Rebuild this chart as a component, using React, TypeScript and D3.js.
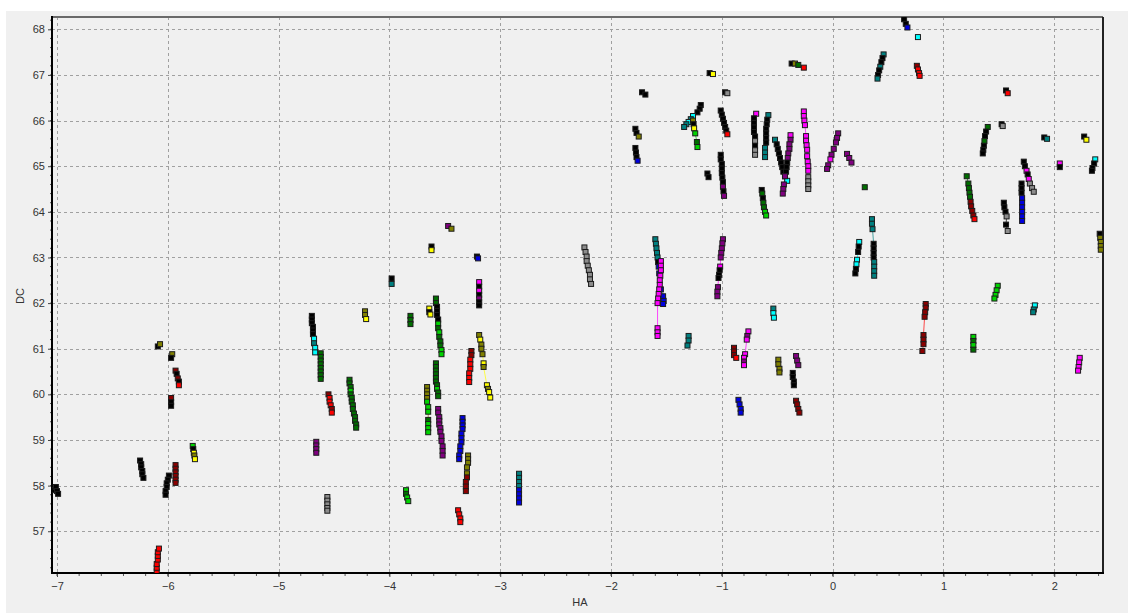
import React, { useEffect, useRef } from 'react';
import * as d3 from 'd3';

// HA / DC track plot: every track is a short run of square markers joined by a thin line

const W = 1128;
const H = 613;

// colour codes used by the point lists
const COLORS: Record<string, string> = {
  k: '#000000', r: '#ff0000', R: '#8b0000', g: '#00d400', G: '#006e00',
  y: '#ffff00', o: '#808000', c: '#00ffff', t: '#008080', b: '#0000e0',
  m: '#ff00ff', P: '#800080', a: '#8c8c8c',
};

const X_TICKS = [-7, -6, -5, -4, -3, -2, -1, 0, 1, 2];
const Y_TICKS = [57, 58, 59, 60, 61, 62, 63, 64, 65, 66, 67, 68];

type Pt = [number, number, string];
type Track = { c: string; p: Pt[] };

// HA < -3.7
const westTracks: Track[] = [
  { c: 'k', p: [[-7.03, 57.9, 'k'], [-7.01, 57.97, 'k'], [-7.0, 57.88, 'k'], [-6.99, 57.82, 'k']] },
  { c: 'k', p: [[-6.25, 58.55, 'k'], [-6.24, 58.47, 'k'], [-6.24, 58.4, 'k'], [-6.23, 58.32, 'k'], [-6.23, 58.25, 'k'], [-6.22, 58.17, 'k']] },
  { c: 'k', p: [[-5.99, 58.22, 'k'], [-6.0, 58.13, 'k'], [-6.01, 58.05, 'k'], [-6.01, 57.97, 'k'], [-6.02, 57.88, 'k'], [-6.02, 57.8, 'k']] },
  { c: 'R', p: [[-5.93, 58.45, 'R'], [-5.93, 58.37, 'R'], [-5.93, 58.29, 'R'], [-5.93, 58.21, 'R'], [-5.93, 58.13, 'R'], [-5.93, 58.06, 'R']] },
  { c: 'g', p: [[-5.775, 58.87, 'g'], [-5.77, 58.8, 'k'], [-5.765, 58.72, 'y'], [-5.76, 58.66, 'o'], [-5.755, 58.58, 'y']] },
  { c: 'r', p: [[-6.1, 56.12, 'r'], [-6.1, 56.2, 'r'], [-6.1, 56.28, 'r'], [-6.09, 56.38, 'r'], [-6.09, 56.46, 'r'], [-6.09, 56.54, 'r'], [-6.08, 56.62, 'r']] },
  { c: 'k', p: [[-6.09, 61.05, 'k'], [-6.07, 61.1, 'o']] },
  { c: 'k', p: [[-5.96, 60.88, 'o'], [-5.97, 60.8, 'k']] },
  { c: 'R', p: [[-5.93, 60.52, 'R'], [-5.92, 60.45, 'k'], [-5.91, 60.35, 'R'], [-5.9, 60.28, 'k'], [-5.9, 60.2, 'r']] },
  { c: 'R', p: [[-5.97, 59.92, 'R'], [-5.97, 59.83, 'k'], [-5.97, 59.75, 'k']] },
  { c: 'k', p: [[-4.7, 61.72, 'k'], [-4.7, 61.64, 'k'], [-4.7, 61.56, 'k'], [-4.69, 61.48, 'k'], [-4.69, 61.4, 'k'], [-4.69, 61.32, 'k'], [-4.68, 61.22, 'c'], [-4.68, 61.12, 't'], [-4.67, 61.02, 'c'], [-4.67, 60.92, 'c']] },
  { c: 'G', p: [[-4.62, 60.9, 'G'], [-4.62, 60.82, 'G'], [-4.62, 60.74, 'G'], [-4.62, 60.66, 'G'], [-4.62, 60.58, 'G'], [-4.62, 60.5, 'G'], [-4.62, 60.42, 'G'], [-4.62, 60.34, 'G']] },
  { c: 'r', p: [[-4.55, 60.0, 'R'], [-4.54, 59.92, 'r'], [-4.54, 59.84, 'r'], [-4.53, 59.76, 'r'], [-4.52, 59.68, 'R'], [-4.52, 59.6, 'r']] },
  { c: 'G', p: [[-4.36, 60.32, 'G'], [-4.36, 60.24, 'G'], [-4.35, 60.16, 'G'], [-4.35, 60.08, 'g'], [-4.35, 60.0, 'G'], [-4.34, 59.92, 'G'], [-4.34, 59.84, 'G'], [-4.33, 59.76, 'G'], [-4.33, 59.68, 'G'], [-4.32, 59.58, 'G'], [-4.31, 59.5, 'G'], [-4.31, 59.42, 'G'], [-4.3, 59.34, 'G'], [-4.3, 59.27, 'G']] },
  { c: 'P', p: [[-4.66, 58.96, 'P'], [-4.66, 58.88, 'P'], [-4.66, 58.8, 'P'], [-4.66, 58.72, 'P']] },
  { c: 'a', p: [[-4.56, 57.75, 'a'], [-4.56, 57.67, 'a'], [-4.56, 57.59, 'a'], [-4.56, 57.51, 'a'], [-4.56, 57.45, 'a']] },
  { c: 'o', p: [[-4.22, 61.82, 'o'], [-4.22, 61.74, 'o'], [-4.21, 61.65, 'y']] },
  { c: 'k', p: [[-3.98, 62.54, 'k'], [-3.98, 62.42, 't']] },
  { c: 'G', p: [[-3.81, 61.72, 'G'], [-3.81, 61.63, 'G'], [-3.81, 61.54, 'G']] },
  { c: 'g', p: [[-3.85, 57.9, 'g'], [-3.85, 57.82, 'G'], [-3.84, 57.74, 'g'], [-3.83, 57.66, 'g']] },
];

// -3.7 < HA < -2
const midWestTracks: Track[] = [
  { c: 'P', p: [[-3.47, 63.69, 'P'], [-3.44, 63.63, 'o']] },
  { c: 'k', p: [[-3.62, 63.24, 'k'], [-3.62, 63.16, 'y']] },
  { c: 'b', p: [[-3.21, 63.02, 'k'], [-3.2, 62.98, 'b']] },
  { c: 'm', p: [[-3.19, 62.46, 'm'], [-3.19, 62.36, 'k'], [-3.19, 62.27, 'm'], [-3.19, 62.18, 'k'], [-3.19, 62.1, 'P'], [-3.19, 62.02, 'k'], [-3.19, 61.95, 'k']] },
  { c: 'y', p: [[-3.64, 61.88, 'y'], [-3.64, 61.8, 'k'], [-3.63, 61.75, 'y']] },
  { c: 'G', p: [[-3.58, 62.1, 'G'], [-3.58, 62.0, 'G'], [-3.57, 61.92, 'k'], [-3.57, 61.83, 'k'], [-3.57, 61.74, 'k'], [-3.56, 61.64, 'k'], [-3.56, 61.55, 'g'], [-3.56, 61.45, 'G'], [-3.55, 61.36, 'g'], [-3.55, 61.26, 'G'], [-3.54, 61.16, 'G'], [-3.54, 61.07, 'G'], [-3.53, 60.97, 'g'], [-3.53, 60.88, 'g']] },
  { c: 'G', p: [[-3.58, 60.68, 'G'], [-3.58, 60.6, 'G'], [-3.58, 60.52, 'G'], [-3.58, 60.44, 'G'], [-3.58, 60.36, 'G'], [-3.58, 60.28, 'G'], [-3.57, 60.2, 'G'], [-3.57, 60.12, 'g'], [-3.56, 60.04, 'G'], [-3.56, 59.96, 'G']] },
  { c: 'o', p: [[-3.66, 60.16, 'o'], [-3.66, 60.08, 'o'], [-3.66, 60.0, 'o'], [-3.66, 59.92, 'o'], [-3.66, 59.84, 'g'], [-3.65, 59.72, 'g'], [-3.65, 59.62, 'g'], [-3.65, 59.44, 'G'], [-3.65, 59.35, 'g'], [-3.65, 59.26, 'g'], [-3.65, 59.17, 'g']] },
  { c: 'P', p: [[-3.56, 59.68, 'P'], [-3.56, 59.6, 'P'], [-3.55, 59.5, 'P'], [-3.55, 59.42, 'P'], [-3.55, 59.34, 'P'], [-3.54, 59.26, 'P'], [-3.54, 59.18, 'P'], [-3.53, 59.08, 'P'], [-3.53, 58.98, 'P'], [-3.52, 58.86, 'P'], [-3.52, 58.76, 'P'], [-3.52, 58.66, 'P']] },
  { c: 'b', p: [[-3.34, 59.48, 'b'], [-3.34, 59.4, 'b'], [-3.34, 59.32, 'b'], [-3.34, 59.24, 'b'], [-3.35, 59.14, 'b'], [-3.35, 59.04, 'b'], [-3.35, 58.95, 'b'], [-3.36, 58.86, 'b'], [-3.36, 58.76, 'b'], [-3.37, 58.66, 'b'], [-3.37, 58.58, 'b']] },
  { c: 'o', p: [[-3.29, 58.66, 'o'], [-3.29, 58.58, 'o'], [-3.29, 58.5, 'o'], [-3.3, 58.4, 'o'], [-3.3, 58.27, 'o'], [-3.3, 58.18, 'R'], [-3.31, 58.08, 'R'], [-3.31, 57.98, 'R'], [-3.31, 57.88, 'R']] },
  { c: 'r', p: [[-3.38, 57.46, 'r'], [-3.37, 57.37, 'r'], [-3.36, 57.28, 'r'], [-3.36, 57.2, 'r']] },
  { c: 'r', p: [[-3.26, 60.95, 'R'], [-3.26, 60.86, 'R'], [-3.27, 60.76, 'r'], [-3.27, 60.66, 'r'], [-3.27, 60.56, 'r'], [-3.28, 60.46, 'r'], [-3.28, 60.36, 'r'], [-3.28, 60.27, 'r']] },
  { c: 'y', p: [[-3.19, 61.3, 'o'], [-3.18, 61.2, 'y'], [-3.17, 61.09, 'o'], [-3.17, 61.0, 'o'], [-3.16, 60.88, 'o'], [-3.15, 60.68, 'y'], [-3.15, 60.6, 'o'], [-3.12, 60.2, 'y'], [-3.11, 60.12, 'o'], [-3.1, 60.05, 'y'], [-3.09, 59.93, 'y']] },
  { c: 'a', p: [[-2.24, 63.22, 'a'], [-2.23, 63.12, 'a'], [-2.22, 63.02, 'a'], [-2.22, 62.92, 'a'], [-2.21, 62.82, 'a'], [-2.2, 62.72, 'a'], [-2.19, 62.62, 'a'], [-2.19, 62.52, 'a'], [-2.18, 62.42, 'a']] },
  { c: 't', p: [[-2.83, 58.26, 't'], [-2.83, 58.17, 't'], [-2.83, 58.08, 't'], [-2.83, 57.99, 't'], [-2.83, 57.9, 'b'], [-2.83, 57.81, 'b'], [-2.83, 57.72, 'b'], [-2.83, 57.63, 'b']] },
];

// -2 < HA < 0.3, DC below 64
const centreLowTracks: Track[] = [
  { c: 't', p: [[-1.6, 63.4, 't'], [-1.595, 63.3, 't'], [-1.59, 63.2, 't'], [-1.585, 63.1, 't'], [-1.58, 63.0, 't'], [-1.575, 62.9, 'k'], [-1.57, 62.8, 'b'], [-1.565, 62.65, 'b'], [-1.55, 62.3, 'b'], [-1.53, 62.15, 'b'], [-1.525, 62.05, 'b'], [-1.53, 61.98, 'b']] },
  { c: 'm', p: [[-1.55, 62.92, 'm'], [-1.55, 62.82, 'm'], [-1.55, 62.72, 'm'], [-1.555, 62.6, 'm'], [-1.56, 62.5, 'm'], [-1.56, 62.4, 'm'], [-1.565, 62.3, 'm'], [-1.57, 62.2, 'm'], [-1.575, 62.1, 'm'], [-1.58, 62.0, 'm'], [-1.58, 61.45, 'm'], [-1.58, 61.36, 'm'], [-1.58, 61.28, 'm']] },
  { c: 'm', p: [[-0.99, 63.4, 'P'], [-0.995, 63.31, 'P'], [-1.0, 63.2, 'P'], [-1.005, 63.1, 'P'], [-1.01, 63.0, 'P'], [-1.015, 62.8, 'm'], [-1.02, 62.72, 'k'], [-1.025, 62.62, 'k'], [-1.03, 62.55, 'k'], [-1.035, 62.35, 'P'], [-1.04, 62.25, 'P'], [-1.04, 62.15, 'P']] },
  { c: 't', p: [[-1.3, 61.28, 't'], [-1.3, 61.18, 't'], [-1.31, 61.07, 't']] },
  { c: 'R', p: [[-0.89, 61.02, 'R'], [-0.89, 60.94, 'R'], [-0.89, 60.86, 'R'], [-0.87, 60.8, 'r']] },
  { c: 'm', p: [[-0.76, 61.38, 'm'], [-0.77, 61.28, 'P'], [-0.775, 61.2, 'm'], [-0.79, 60.88, 'm'], [-0.8, 60.8, 'm'], [-0.8, 60.72, 'P'], [-0.8, 60.64, 'm']] },
  { c: 't', p: [[-0.535, 61.88, 't'], [-0.535, 61.78, 'c'], [-0.53, 61.68, 'c']] },
  { c: 'o', p: [[-0.49, 60.76, 'o'], [-0.49, 60.66, 'o'], [-0.48, 60.56, 'o'], [-0.48, 60.48, 'o']] },
  { c: 'P', p: [[-0.33, 60.84, 'P'], [-0.32, 60.74, 'P'], [-0.31, 60.64, 'P']] },
  { c: 'k', p: [[-0.36, 60.47, 'k'], [-0.36, 60.38, 'k'], [-0.35, 60.28, 'k'], [-0.35, 60.2, 'k']] },
  { c: 'R', p: [[-0.33, 59.86, 'R'], [-0.32, 59.78, 'R'], [-0.31, 59.68, 'R'], [-0.3, 59.6, 'R']] },
  { c: 'b', p: [[-0.85, 59.88, 'b'], [-0.84, 59.78, 'b'], [-0.83, 59.68, 'b'], [-0.83, 59.6, 'b']] },
  { c: 'G', p: [[-0.64, 64.48, 'k'], [-0.635, 64.4, 'G'], [-0.63, 64.3, 'k'], [-0.625, 64.2, 'G'], [-0.62, 64.1, 'G'], [-0.61, 64.0, 'g'], [-0.6, 63.92, 'g']] },
];

// -2 < HA < 0.3, DC above 64
const centreHighTracks: Track[] = [
  { c: 'k', p: [[-1.72, 66.62, 'k'], [-1.69, 66.57, 'k']] },
  { c: 'k', p: [[-1.11, 67.04, 'k'], [-1.08, 67.02, 'y']] },
  { c: 'k', p: [[-0.37, 67.25, 'k'], [-0.34, 67.25, 'o'], [-0.31, 67.22, 'G'], [-0.26, 67.16, 'r']] },
  { c: 'k', p: [[-0.97, 66.62, 'k'], [-0.95, 66.6, 'a']] },
  { c: 'k', p: [[-1.78, 65.82, 'k'], [-1.77, 65.73, 'k'], [-1.75, 65.65, 'o']] },
  { c: 'k', p: [[-1.78, 65.4, 'k'], [-1.775, 65.3, 'k'], [-1.77, 65.2, 'k'], [-1.76, 65.12, 'b']] },
  { c: 't', p: [[-1.19, 66.34, 'k'], [-1.2, 66.26, 'k'], [-1.22, 66.18, 'k'], [-1.26, 66.1, 'c'], [-1.28, 66.03, 't'], [-1.3, 65.97, 'c'], [-1.32, 65.92, 't'], [-1.34, 65.86, 't']] },
  { c: 'g', p: [[-1.26, 66.0, 'o'], [-1.255, 65.92, 'k'], [-1.25, 65.83, 'y'], [-1.24, 65.72, 'g'], [-1.225, 65.53, 'G'], [-1.22, 65.42, 'g']] },
  { c: 'k', p: [[-1.01, 66.22, 'k'], [-1.0, 66.13, 'k'], [-0.99, 66.04, 'k'], [-0.98, 65.95, 'k'], [-0.97, 65.86, 'k'], [-0.96, 65.78, 'k'], [-0.95, 65.7, 'r']] },
  { c: 'k', p: [[-1.01, 65.25, 'k'], [-1.01, 65.15, 'k'], [-1.0, 65.05, 'k'], [-1.0, 64.95, 'k'], [-1.0, 64.85, 'k'], [-0.995, 64.75, 'k'], [-0.99, 64.65, 'k'], [-0.99, 64.55, 'P'], [-0.985, 64.45, 'k'], [-0.98, 64.35, 'P']] },
  { c: 'k', p: [[-1.13, 64.84, 'k'], [-1.12, 64.76, 'k']] },
  { c: 'k', p: [[-0.69, 66.15, 'm'], [-0.71, 66.05, 'k'], [-0.71, 65.95, 'k'], [-0.71, 65.85, 'k'], [-0.71, 65.75, 'k'], [-0.7, 65.65, 'k'], [-0.7, 65.55, 'a'], [-0.7, 65.45, 'k'], [-0.7, 65.35, 'a'], [-0.7, 65.25, 'a']] },
  { c: 't', p: [[-0.58, 66.12, 't'], [-0.59, 66.02, 'k'], [-0.595, 65.92, 'k'], [-0.6, 65.82, 'k'], [-0.6, 65.72, 'k'], [-0.6, 65.62, 'k'], [-0.6, 65.52, 'k'], [-0.61, 65.4, 't'], [-0.61, 65.3, 't'], [-0.61, 65.2, 't']] },
  { c: 'k', p: [[-0.52, 65.58, 't'], [-0.505, 65.48, 'k'], [-0.495, 65.38, 'k'], [-0.485, 65.28, 'k'], [-0.475, 65.18, 'k'], [-0.465, 65.08, 'k'], [-0.455, 64.98, 'k'], [-0.445, 64.88, 'k'], [-0.43, 64.78, 'k'], [-0.41, 64.68, 'c']] },
  { c: 'm', p: [[-0.38, 65.68, 'm'], [-0.38, 65.58, 'P'], [-0.39, 65.48, 'P'], [-0.39, 65.38, 'P'], [-0.4, 65.28, 'P'], [-0.405, 65.18, 'P'], [-0.41, 65.08, 'k'], [-0.415, 64.98, 'k'], [-0.42, 64.88, 'k'], [-0.43, 64.78, 'P'], [-0.44, 64.6, 'P'], [-0.445, 64.5, 'P'], [-0.45, 64.4, 'P']] },
  { c: 'm', p: [[-0.26, 66.2, 'm'], [-0.26, 66.1, 'm'], [-0.255, 66.0, 'm'], [-0.25, 65.9, 'm'], [-0.24, 65.66, 'm'], [-0.24, 65.56, 'm'], [-0.235, 65.46, 'm'], [-0.23, 65.36, 'm'], [-0.23, 65.22, 'm'], [-0.225, 65.1, 'm'], [-0.22, 65.0, 'm'], [-0.22, 64.9, 'm']] },
  { c: 'a', p: [[-0.22, 64.76, 'a'], [-0.22, 64.67, 'a'], [-0.22, 64.58, 'a'], [-0.22, 64.5, 'a']] },
  { c: 'P', p: [[0.05, 65.72, 'P'], [0.04, 65.62, 'P'], [0.03, 65.52, 'P'], [0.01, 65.38, 'P'], [-0.01, 65.25, 'P'], [-0.02, 65.15, 'm'], [-0.04, 65.02, 'P'], [-0.05, 64.94, 'P']] },
  { c: 'P', p: [[0.13, 65.27, 'P'], [0.15, 65.18, 'P'], [0.17, 65.08, 'P']] },
  { c: 'G', p: [[0.29, 64.54, 'G']] },
];

// HA > 0.3
const eastTracks: Track[] = [
  { c: 'k', p: [[0.645, 68.22, 'k'], [0.66, 68.12, 'k'], [0.675, 68.04, 'b']] },
  { c: 'c', p: [[0.77, 67.83, 'c']] },
  { c: 't', p: [[0.46, 67.45, 't'], [0.45, 67.37, 'k'], [0.44, 67.28, 'k'], [0.43, 67.18, 't'], [0.42, 67.1, 'k'], [0.41, 67.0, 'k'], [0.405, 66.92, 't']] },
  { c: 'r', p: [[0.76, 67.2, 'R'], [0.77, 67.12, 'r'], [0.78, 67.04, 'r'], [0.785, 66.98, 'r']] },
  { c: 'k', p: [[1.565, 66.66, 'k'], [1.58, 66.6, 'r']] },
  { c: 'k', p: [[1.525, 65.92, 'k'], [1.535, 65.88, 'a']] },
  { c: 'G', p: [[1.4, 65.86, 'G'], [1.385, 65.76, 'k'], [1.375, 65.66, 'k'], [1.37, 65.55, 'G'], [1.365, 65.45, 'k'], [1.36, 65.36, 'k'], [1.355, 65.28, 'k']] },
  { c: 'k', p: [[1.91, 65.63, 'k'], [1.935, 65.6, 't']] },
  { c: 'k', p: [[2.27, 65.65, 'k'], [2.29, 65.58, 'y']] },
  { c: 'm', p: [[2.05, 65.06, 'm'], [2.05, 64.98, 'k']] },
  { c: 'c', p: [[2.37, 65.15, 'c'], [2.36, 65.06, 'k'], [2.345, 64.96, 'k'], [2.34, 64.9, 'k']] },
  { c: 'G', p: [[1.21, 64.78, 'G'], [1.225, 64.62, 'G'], [1.23, 64.52, 'G'], [1.235, 64.42, 'G'], [1.24, 64.33, 'G'], [1.245, 64.22, 'R'], [1.25, 64.12, 'R'], [1.26, 64.02, 'R'], [1.27, 63.92, 'R'], [1.28, 63.84, 'r']] },
  { c: 'k', p: [[1.725, 65.1, 'k'], [1.735, 65.0, 'k'], [1.75, 64.9, 'm'], [1.76, 64.82, 'k'], [1.77, 64.72, 'm'], [1.78, 64.62, 'a'], [1.8, 64.52, 'a'], [1.815, 64.44, 'a']] },
  { c: 'b', p: [[1.705, 64.62, 'k'], [1.705, 64.52, 'k'], [1.705, 64.42, 'k'], [1.71, 64.3, 'b'], [1.71, 64.2, 'b'], [1.71, 64.1, 'b'], [1.71, 64.0, 'b'], [1.71, 63.9, 'b'], [1.71, 63.8, 'b']] },
  { c: 'k', p: [[1.545, 64.2, 'k'], [1.55, 64.1, 'k'], [1.56, 64.0, 'k'], [1.57, 63.9, 'a'], [1.565, 63.72, 'k'], [1.58, 63.58, 'a']] },
  { c: 'o', p: [[2.41, 63.52, 'k'], [2.415, 63.43, 'o'], [2.42, 63.34, 'o'], [2.42, 63.25, 'o'], [2.42, 63.17, 'o']] },
  { c: 't', p: [[0.355, 63.84, 't'], [0.355, 63.74, 't'], [0.36, 63.62, 't'], [0.37, 63.3, 'k'], [0.37, 63.2, 'k'], [0.37, 63.1, 'k'], [0.37, 63.0, 'k'], [0.375, 62.9, 't'], [0.375, 62.8, 't'], [0.375, 62.7, 't'], [0.375, 62.6, 't']] },
  { c: 'c', p: [[0.24, 63.34, 'c'], [0.235, 63.24, 'k'], [0.23, 63.12, 'k'], [0.22, 62.95, 'c'], [0.215, 62.85, 'c'], [0.21, 62.75, 'k'], [0.205, 62.65, 'k']] },
  { c: 'r', p: [[0.84, 61.98, 'R'], [0.84, 61.9, 'R'], [0.835, 61.8, 'R'], [0.83, 61.7, 'R'], [0.82, 61.3, 'R'], [0.82, 61.2, 'R'], [0.82, 61.1, 'R'], [0.81, 60.95, 'R']] },
  { c: 'g', p: [[1.49, 62.38, 'g'], [1.48, 62.28, 'g'], [1.47, 62.18, 'g'], [1.46, 62.1, 'g']] },
  { c: 't', p: [[1.825, 61.95, 'c'], [1.815, 61.86, 't'], [1.81, 61.8, 't']] },
  { c: 'g', p: [[1.27, 61.26, 'g'], [1.27, 61.17, 'G'], [1.27, 61.08, 'g'], [1.27, 60.98, 'G']] },
  { c: 'm', p: [[2.23, 60.8, 'm'], [2.225, 60.7, 'm'], [2.22, 60.6, 'm'], [2.215, 60.52, 'm']] },
];

const ALL_TRACKS = [...westTracks, ...midWestTracks, ...centreLowTracks, ...centreHighTracks, ...eastTracks];

const App = () => {
  const svgRef = useRef<SVGSVGElement>(null);

  useEffect(() => {
    if (!svgRef.current) return;
    const svg = d3.select(svgRef.current);
    svg.selectAll('*').remove();

    const left = 52, right = 1103, top = 17, bottom = 573;
    const x = d3.scaleLinear().domain([-7.045, 2.44]).range([left, right]);
    const y = d3.scaleLinear().domain([56.085, 68.27]).range([bottom, top]);

    // panel background
    svg.append('rect').attr('x', 6).attr('y', 11).attr('width', W - 6).attr('height', H - 11).attr('fill', '#f0f0f0');

    svg.append('defs').append('clipPath').attr('id', 'plotClip')
      .append('rect').attr('x', left).attr('y', top).attr('width', right - left).attr('height', bottom - top);

    // grid
    const grid = svg.append('g').attr('stroke', '#a0a0a0').attr('stroke-dasharray', '3,3').attr('stroke-width', 1);
    grid.selectAll('.gx').data(X_TICKS).join('line')
      .attr('x1', d => Math.round(x(d)) + 0.5).attr('x2', d => Math.round(x(d)) + 0.5)
      .attr('y1', top).attr('y2', bottom);
    grid.selectAll('.gy').data(Y_TICKS).join('line')
      .attr('y1', d => Math.round(y(d)) + 0.5).attr('y2', d => Math.round(y(d)) + 0.5)
      .attr('x1', left).attr('x2', right);

    // x axis
    const xAxis = svg.append('g').attr('transform', `translate(0,${bottom})`)
      .call(d3.axisBottom(x).tickValues(X_TICKS).tickSize(4).tickPadding(5).tickFormat(d3.format('d')));
    xAxis.select('.domain').remove();
    const xMinor = d3.range(-7, 2.5, 0.2).filter(v => v <= 2.44);
    xAxis.selectAll('.minor').data(xMinor).join('line')
      .attr('x1', d => x(d)).attr('x2', d => x(d)).attr('y1', 0).attr('y2', 3)
      .attr('stroke', '#555');

    // y axis
    const yAxis = svg.append('g').attr('transform', `translate(${left},0)`)
      .call(d3.axisLeft(y).tickValues(Y_TICKS).tickSize(4).tickPadding(3).tickFormat(d3.format('d')));
    yAxis.select('.domain').remove();
    const yMinor = d3.range(56.2, 68.27, 0.2);
    yAxis.selectAll('.minor').data(yMinor).join('line')
      .attr('x1', 0).attr('x2', -2).attr('y1', d => y(d)).attr('y2', d => y(d))
      .attr('stroke', '#555');

    svg.selectAll('.tick line').attr('stroke', '#444');
    svg.selectAll('.tick text')
      .attr('font-family', '"Liberation Sans", Arial, sans-serif')
      .attr('font-size', 11).attr('fill', '#333');

    // frame
    svg.append('line').attr('x1', left).attr('x2', right).attr('y1', top).attr('y2', top)
      .attr('stroke', '#6a6a6a').attr('stroke-width', 2);
    svg.append('line').attr('x1', right).attr('x2', right).attr('y1', top).attr('y2', bottom)
      .attr('stroke', '#222').attr('stroke-width', 2);
    svg.append('line').attr('x1', left).attr('x2', left).attr('y1', top - 1).attr('y2', bottom + 1)
      .attr('stroke', '#000').attr('stroke-width', 2);
    svg.append('line').attr('x1', left - 1).attr('x2', right + 1).attr('y1', bottom).attr('y2', bottom)
      .attr('stroke', '#000').attr('stroke-width', 2);

    // axis titles
    svg.append('text').attr('x', 580).attr('y', 606).attr('text-anchor', 'middle')
      .attr('font-family', '"Liberation Sans", Arial, sans-serif').attr('font-size', 11).attr('fill', '#333')
      .text('HA');
    svg.append('text').attr('transform', 'translate(24,296) rotate(-90)').attr('text-anchor', 'middle')
      .attr('font-family', '"Liberation Sans", Arial, sans-serif').attr('font-size', 11).attr('fill', '#333')
      .text('DC');

    // tracks
    const plot = svg.append('g').attr('clip-path', 'url(#plotClip)');
    const line = d3.line<Pt>().x(d => x(d[0])).y(d => y(d[1]));

    plot.selectAll('.track').data(ALL_TRACKS).join('path')
      .attr('d', d => line(d.p))
      .attr('fill', 'none')
      .attr('stroke', d => COLORS[d.c])
      .attr('stroke-opacity', 0.7)
      .attr('stroke-width', 1);

    const s = 5;
    plot.selectAll('.pt').data(ALL_TRACKS.flatMap(t => t.p)).join('rect')
      .attr('x', d => x(d[0]) - s / 2)
      .attr('y', d => y(d[1]) - s / 2)
      .attr('width', s).attr('height', s)
      .attr('fill', d => COLORS[d[2]])
      .attr('stroke', '#1c1c1c')
      .attr('stroke-width', 1);
  }, []);

  return (
    <svg ref={svgRef} width={W} height={H} style={{ position: 'absolute', left: 0, top: 0, background: '#fff' }} />
  );
};

export default App;
